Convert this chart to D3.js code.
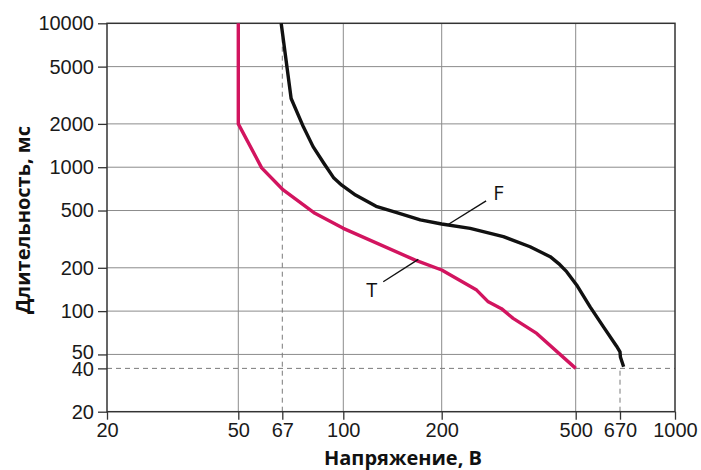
<!DOCTYPE html>
<html>
<head>
<meta charset="utf-8">
<title>Длительность — напряжение</title>
<style>
  body { margin: 0; background: #fff; }
  svg { display: block; font-family: "Open Sans", sans-serif; }
  .axis text { font-size: 20px; fill: #1a1a1a; }
  .axis line { stroke: #333; stroke-width: 1.3; }
  .grid line { stroke: #8c8c8c; stroke-width: 1; }
  .guide { stroke: #7a7a7a; stroke-width: 1; stroke-dasharray: 5,4; fill: none; }
  .title { font-size: 20px; font-weight: bold; fill: #111; }
  .curve { fill: none; stroke-width: 3.4; stroke-linejoin: round; }
  .leader { stroke: #111; stroke-width: 1.4; }
  .label { font-size: 20px; fill: #111; }
</style>
</head>
<body>
<svg width="701" height="470"></svg>
<script src="https://cdn.jsdelivr.net/npm/d3@7"></script>
<script>
// tick values
var xTicks = [20, 50, 67, 100, 200, 500, 670, 1000],
    yTicks = [20, 40, 50, 100, 200, 500, 1000, 2000, 5000, 10000],
    xGrid = [50, 100, 200, 500],
    yGrid = [50, 100, 200, 500, 1000, 2000, 5000];

// curve T (voltage V, duration ms)
var seriesT = [
  [50, 10000], [50, 2000], [58.4, 990], [67.4, 695], [83, 478], [100, 376],
  [166, 226], [200, 193], [254, 140], [275, 116], [301, 104], [326, 89],
  [383, 70], [500, 40]
];

// curve F
var seriesF = [
  [66.5, 10000], [71, 3000], [77, 1900], [82, 1390], [88, 1065], [94, 840],
  [99, 750], [109, 640], [126, 535], [145, 485], [172, 430], [200, 403],
  [243, 376], [305, 329], [366, 280], [420, 239], [445, 214], [470, 188],
  [503, 152], [550, 107], [600, 78], [655, 57], [670, 52], [672, 48], [688, 41]
];

// dashed guide lines
var vGuides = [[67, 20, 10000], [670, 20, 40]],
    hGuides = [[40, 20, 1000]];

// curve labels: name, point on curve, end of leader line
var labels = [
  ["T", [169.6, 229], [132.5, 160]],
  ["F", [209, 400], [271, 583]]
];

var svg = d3.select("svg");

// the original axis is hand drawn, so the log scale is pinned at each tick
var x = d3.scaleLog()
    .domain(xTicks)
    .range([107, 238.3, 282.3, 343.3, 441.7, 575.7, 620, 675]);
var y = d3.scaleLog()
    .domain([20, 10000])
    .range([411.7, 23.3]);

var grid = svg.append("g").attr("class", "grid");
grid.selectAll(".gx").data(xGrid).enter().append("line")
    .attr("x1", x).attr("x2", x)
    .attr("y1", y(20)).attr("y2", y(10000));
grid.selectAll(".gy").data(yGrid).enter().append("line")
    .attr("y1", y).attr("y2", y)
    .attr("x1", x(20)).attr("x2", x(1000));

svg.selectAll(".vguide").data(vGuides).enter().append("line")
    .attr("class", "guide")
    .attr("x1", function(d) { return x(d[0]); })
    .attr("x2", function(d) { return x(d[0]); })
    .attr("y1", function(d) { return y(d[1]); })
    .attr("y2", function(d) { return y(d[2]); });
svg.selectAll(".hguide").data(hGuides).enter().append("line")
    .attr("class", "guide")
    .attr("y1", function(d) { return y(d[0]); })
    .attr("y2", function(d) { return y(d[0]); })
    .attr("x1", function(d) { return x(d[1]); })
    .attr("x2", function(d) { return x(d[2]); });

// frame
svg.append("rect")
    .attr("x", x(20)).attr("y", y(10000))
    .attr("width", x(1000) - x(20)).attr("height", y(20) - y(10000))
    .attr("fill", "none").attr("stroke", "#333").attr("stroke-width", 1.5);

var xAxis = d3.axisBottom(x).tickValues(xTicks).tickSize(8).tickSizeOuter(0)
    .tickFormat(d3.format("d")).tickPadding(3);
var yAxis = d3.axisLeft(y).tickValues(yTicks).tickSize(9).tickSizeOuter(0)
    .tickFormat(d3.format("d")).tickPadding(4);

svg.append("g").attr("class", "axis")
    .attr("transform", "translate(0," + y(20) + ")")
    .call(xAxis)
    .call(function(g) { g.select(".domain").remove(); });
svg.append("g").attr("class", "axis")
    .attr("transform", "translate(" + x(20) + ",0)")
    .call(yAxis)
    .call(function(g) {
      g.select(".domain").remove();
      // 50 and 40 sit close together, nudge them apart a little
      g.selectAll(".tick text").attr("dy", function(d) {
        return d === 50 ? "0.22em" : d === 40 ? "0.38em" : "0.32em";
      });
    });

var line = d3.line()
    .x(function(d) { return x(d[0]); })
    .y(function(d) { return y(d[1]); });

svg.append("path").datum(seriesT)
    .attr("class", "curve").attr("stroke", "#d2145f").attr("d", line);
svg.append("path").datum(seriesF)
    .attr("class", "curve").attr("stroke", "#111").attr("d", line);

labels.forEach(function(l) {
  var p0 = [x(l[1][0]), y(l[1][1])],
      p1 = [x(l[2][0]), y(l[2][1])],
      left = p1[0] < p0[0];
  svg.append("line").attr("class", "leader")
      .attr("x1", p0[0]).attr("y1", p0[1])
      .attr("x2", p1[0]).attr("y2", p1[1]);
  svg.append("text").attr("class", "label")
      .attr("x", left ? p1[0] - 6 : p1[0] + 7)
      .attr("y", left ? p1[1] + 15 : p1[1] - 1)
      .attr("text-anchor", left ? "end" : "start")
      .text(l[0]);
});

svg.append("text").attr("class", "title")
    .attr("x", 403).attr("y", 465)
    .attr("text-anchor", "middle")
    .text("Напряжение, В");
svg.append("text").attr("class", "title")
    .attr("transform", "translate(30,220) rotate(-90)")
    .attr("text-anchor", "middle")
    .text("Длительность, мс");
</script>
</body>
</html>
